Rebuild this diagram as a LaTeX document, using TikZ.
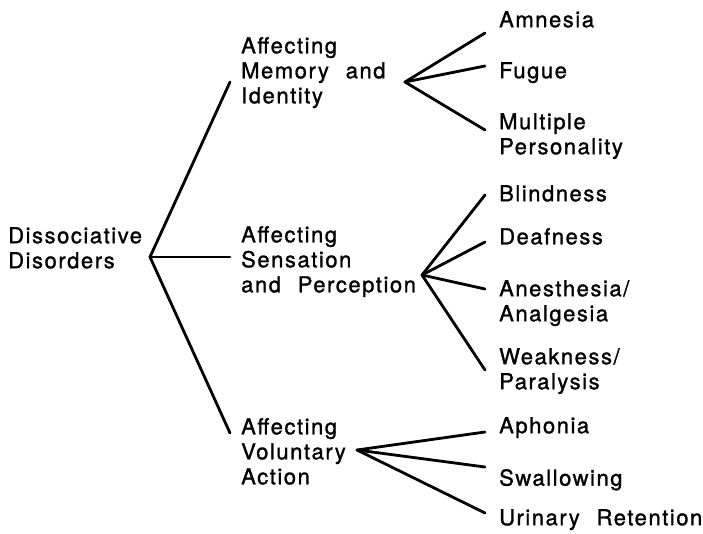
\documentclass[tikz,border=0pt]{standalone}
\usepackage{fontspec}
\setmainfont{TeX Gyre Heros}[LetterSpace=7,WordSpace=2.2,FakeBold=1.2]
\begin{document}
\begin{tikzpicture}[x=1pt,y=-1pt,
  label/.style={anchor=north west,inner sep=0pt,align=left,
    font=\fontsize{22}{25}\selectfont},
  branch/.style={line width=2.8pt,line cap=round,line join=round}]
\useasboundingbox (0,0) rectangle (703,533);

% category and disorder labels
\node[label] (root) at (8,227) {Dissociative\\Disorders};
\node[label] (mem)  at (241,37) {Affecting\\Memory and\\Identity};
\node[label] (sen)  at (241,226) {Affecting\\Sensation\\and Perception};
\node[label] (vol)  at (241,418) {Affecting\\Voluntary\\Action};

\node[label] (amn) at (499,11)  {Amnesia};
\node[label] (fug) at (499,62)  {Fugue};
\node[label] (mul) at (499,113) {Multiple\\Personality};
\node[label] (bli) at (499,185) {Blindness};
\node[label] (dea) at (499,228) {Deafness};
\node[label] (ane) at (499,280) {Anesthesia/\\Analgesia};
\node[label] (wea) at (499,348) {Weakness/\\Paralysis};
\node[label] (aph) at (499,417) {Aphonia};
\node[label] (swa) at (499,469) {Swallowing};
\node[label] (uri) at (499,509) {Urinary Retention};

% branching points
\coordinate (jroot) at (150,257);
\coordinate (jmem)  at (405,82);
\coordinate (jsen)  at (422,275);
\coordinate (jvol)  at (357,450);

% branch ends beside each label
\coordinate (emem) at (230,82);
\coordinate (esen) at (230,257);
\coordinate (evol) at (230,433);
\coordinate (eamn) at (485,33);
\coordinate (efug) at (485,66);
\coordinate (emul) at (485,130);
\coordinate (ebli) at (485,195);
\coordinate (edea) at (485,242);
\coordinate (eane) at (485,289);
\coordinate (ewea) at (485,370);
\coordinate (eaph) at (485,432);
\coordinate (eswa) at (485,467);
\coordinate (euri) at (485,513);

\draw[branch] (emem) -- (jroot) -- (evol);
\draw[branch] (jroot) -- (esen);
\draw[branch] (eamn) -- (jmem) -- (emul);
\draw[branch] (jmem) -- (efug);
\draw[branch] (ebli) -- (jsen) -- (ewea);
\draw[branch] (jsen) -- (edea);
\draw[branch] (jsen) -- (eane);
\draw[branch] (eaph) -- (jvol) -- (euri);
\draw[branch] (jvol) -- (eswa);
\end{tikzpicture}
\end{document}
